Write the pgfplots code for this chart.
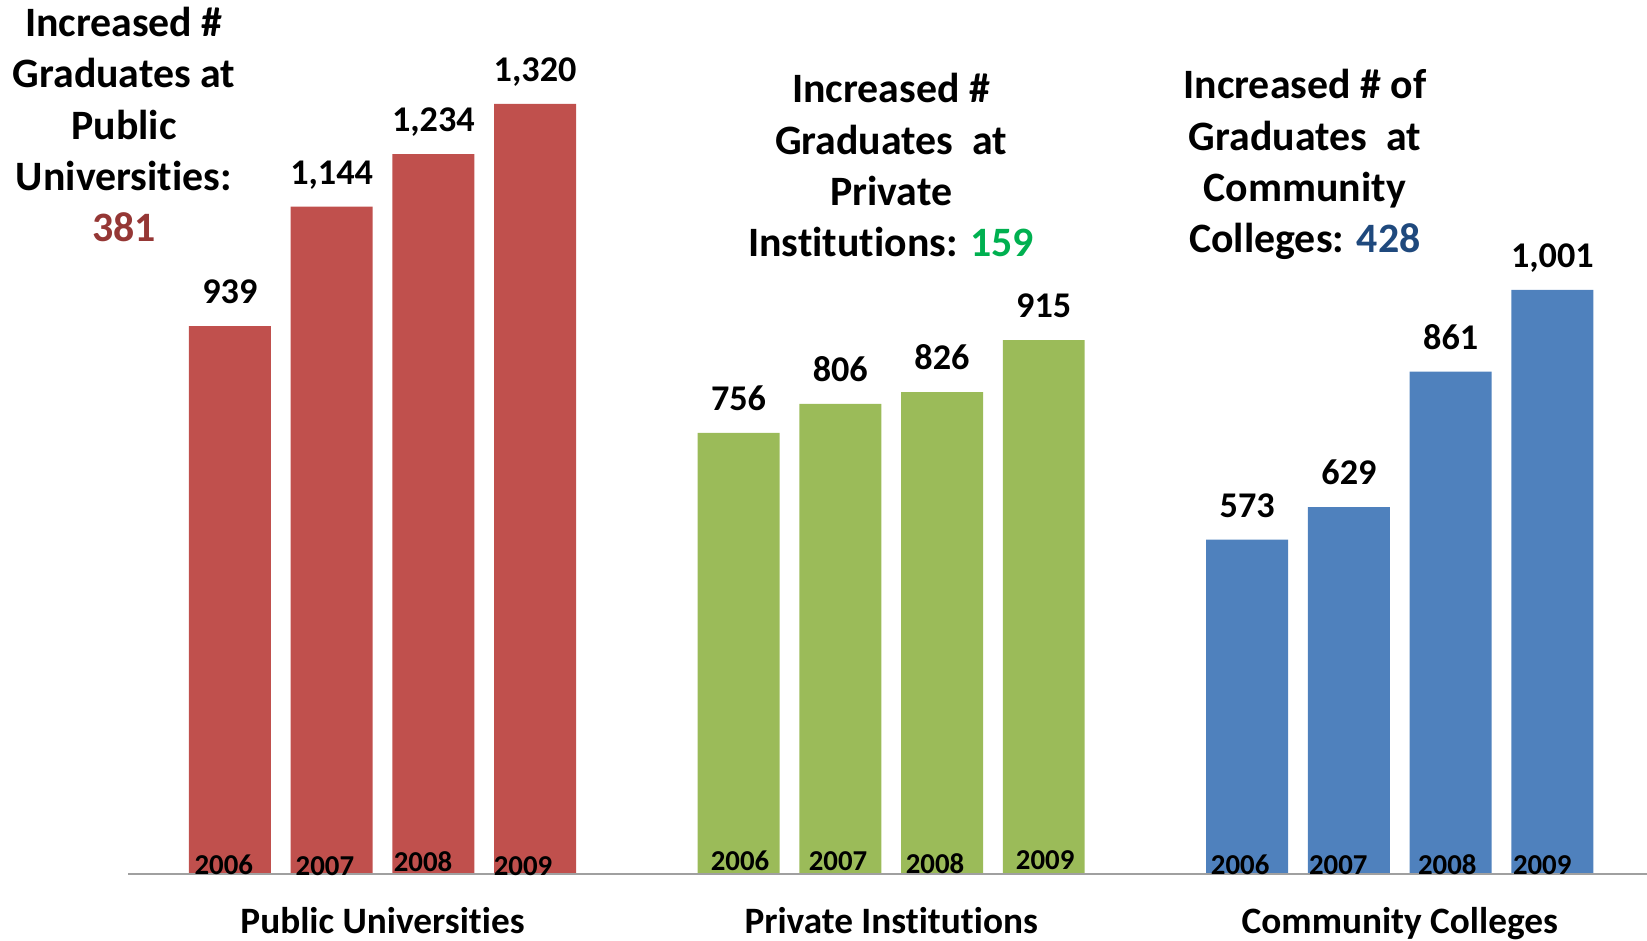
\documentclass[border=0pt]{standalone}
\usepackage{pgfplots}
\pgfplotsset{compat=1.18}
\usepackage{pgfplotstable}
\usepackage{fontspec}
\setmainfont{Carlito}[Ligatures=NoCommon]
\definecolor{redbar}{HTML}{C0504D}
\definecolor{greenbar}{HTML}{9BBB59}
\definecolor{bluebar}{HTML}{4F81BD}
\definecolor{redtxt}{HTML}{953735}
\definecolor{greentxt}{HTML}{00B050}
\definecolor{bluetxt}{HTML}{1F497D}
\definecolor{axisgray}{HTML}{A0A0A0}

\pgfplotstableread{
x y
0 939
1 1144
2 1234
3 1320
}\publicdata
\pgfplotstableread{
x y
5 756
6 806
7 826
8 915
}\privatedata
\pgfplotstableread{
x y
10 573
11 629
12 861
13 1001
}\communitydata
\pgfplotstableread{
x y label
-0.06 0 2006
0.934 -1.7 2007
1.898 3.9 2008
2.881 -1.7 2009
5.015 5.6 2006
5.978 6.9 2007
6.932 1.7 2008
8.014 8.6 2009
9.931 0 2006
10.895 0 2007
11.967 0 2008
12.90 0 2009
}\yeardata

\newcommand{\annfont}{\bfseries\fontsize{11.9}{14.6}\selectfont}
\newcommand{\valfont}{\bfseries\fontsize{10.3}{12}\selectfont}
\newcommand{\yearfont}{\bfseries\fontsize{8.2}{10}\selectfont}
\newcommand{\catfont}{\bfseries\fontsize{10.6}{12}\selectfont}

\begin{document}
\begin{tikzpicture}
\begin{axis}[
  scale only axis,
  width=164.7mm, height=94mm,
  xmin=-2.26, xmax=13.93,
  ymin=-113, ymax=1498,
  hide axis, clip=false,
  /pgf/number format/assume math mode=true,
  /pgf/number format/1000 sep={,},
  barstyle/.style={ybar, bar width=0.806, bar shift=0pt, draw=none,
    nodes near coords,
    every node near coord/.style={font=\valfont, anchor=base, yshift=2.25mm, text=black}},
]
\addplot[barstyle, fill=redbar] table {\publicdata};
\addplot[barstyle, fill=greenbar] table {\privatedata};
\addplot[barstyle, fill=bluebar] table {\communitydata};
\addplot[color=axisgray, line width=0.15mm, forget plot] coordinates {(-1,0) (13.93,0)};
\addplot[draw=none, mark=none, nodes near coords, point meta=explicit symbolic,
  every node near coord/.style={font=\yearfont, anchor=base, text=black}]
  table[meta=label] {\yeardata};

\node[anchor=base, align=center, font=\annfont] at (axis cs:-1.042,1083.6)
  {Increased \#\\Graduates at\\Public\\Universities:\\\textcolor{redtxt}{381}};
\node[anchor=base, align=center, font=\annfont] at (axis cs:6.5,1058)
  {Increased \#\\Graduates\ \ at\\Private\\Institutions: \textcolor{greentxt}{159}};
\node[anchor=base, align=center, font=\annfont] at (axis cs:10.567,1064.8)
  {Increased \# of\\Graduates\ \ at\\Community\\Colleges: \textcolor{bluetxt}{428}};

\node[anchor=base, font=\catfont] at (axis cs:1.5,-101) {Public Universities};
\node[anchor=base, font=\catfont] at (axis cs:6.5,-101) {Private Institutions};
\node[anchor=base, font=\catfont] at (axis cs:11.5,-101) {Community Colleges};
\end{axis}
\pgfresetboundingbox
\useasboundingbox (current axis.south west) rectangle (current axis.north east);
\end{tikzpicture}
\end{document}
